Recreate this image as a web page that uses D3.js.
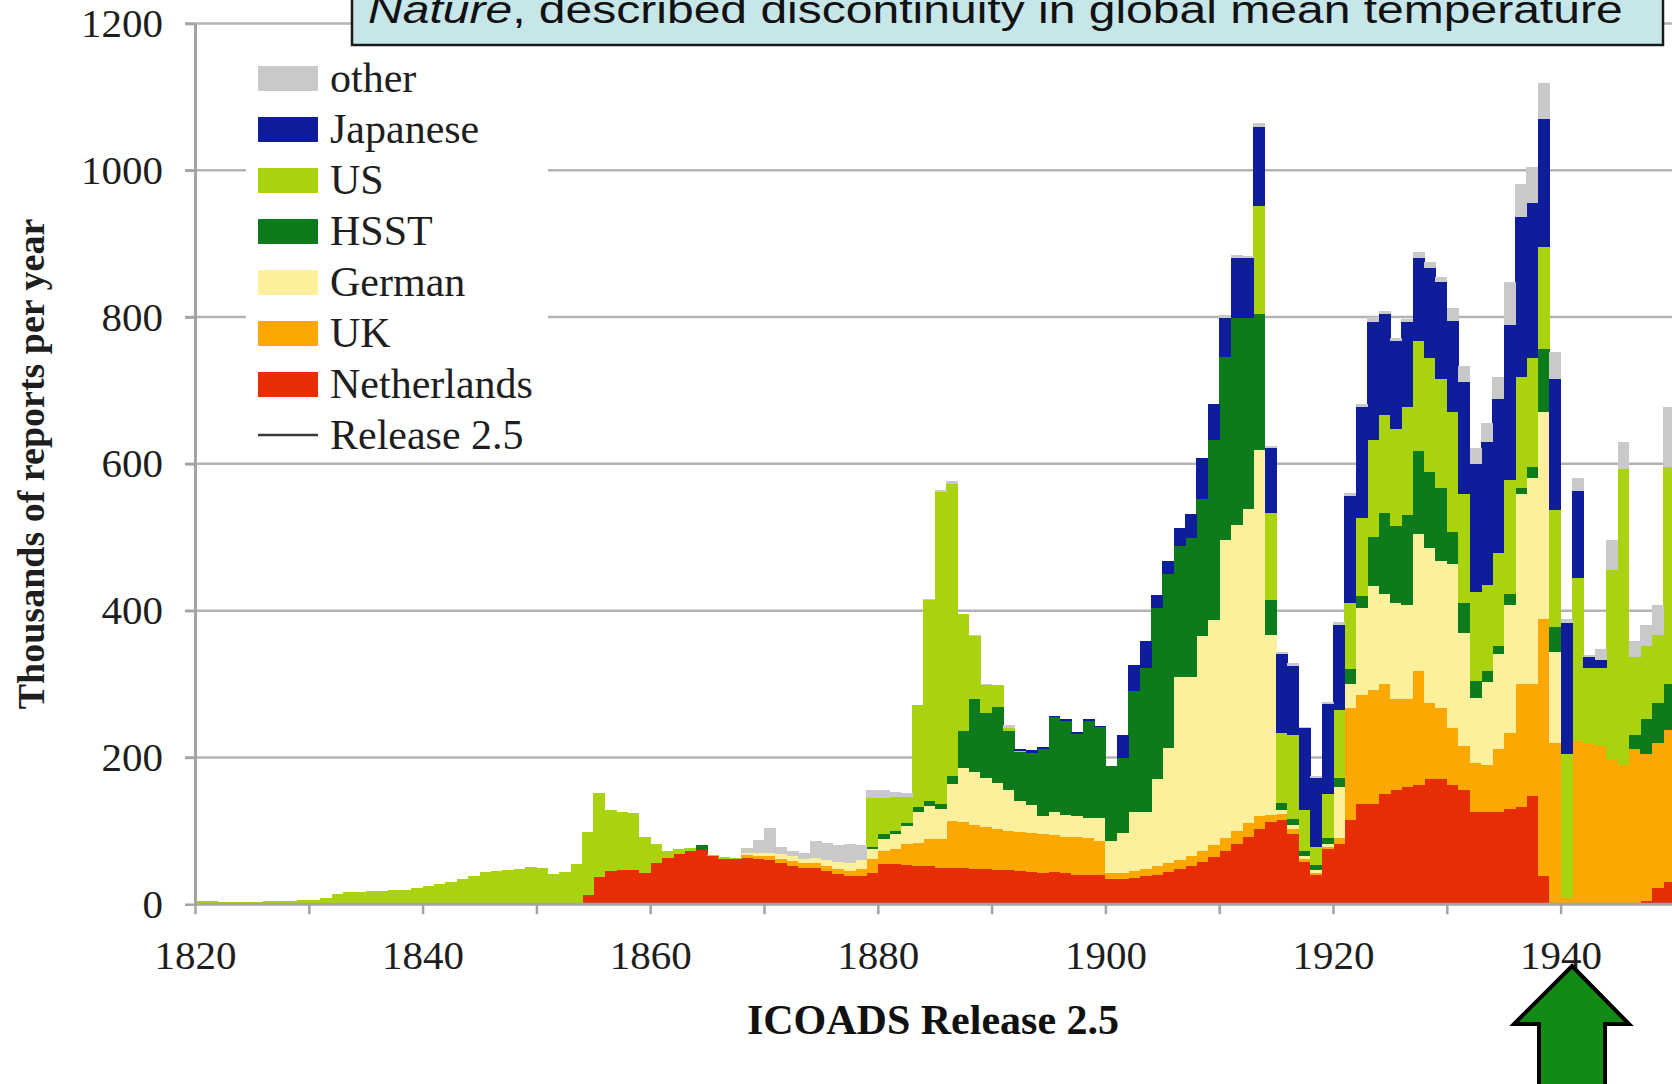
<!DOCTYPE html>
<html><head><meta charset="utf-8">
<script src="https://cdn.jsdelivr.net/npm/d3@7"></script>
<style>
html,body{margin:0;padding:0;background:#fff;}
svg{display:block;}
</style></head>
<body>
<svg id="chart" width="1672" height="1084"></svg>
<script>
// ---------- DATA (thousands of reports per year, 1820..1949) ----------
const firstYear = 1820;
const lastYear = 1949;
const seriesKeys = ["Netherlands", "UK", "German", "HSST", "US", "Japanese", "other"];
const legendOrder = ["other", "Japanese", "US", "HSST", "German", "UK", "Netherlands"];
const yTicks = [0, 200, 400, 600, 800, 1000, 1200];
const xTicks = [1820, 1830, 1840, 1850, 1860, 1870, 1880, 1890, 1900, 1910, 1920, 1930, 1940];
const xTickLabels = [1820, 1840, 1860, 1880, 1900, 1920, 1940];

const netherlands = [
  0,0,0,0,0,0,0,0,0,0,
  0,0,0,0,0,0,0,0,0,0,
  0,0,0,0,0,0,0,0,0,0,
  0,0,0,0,12,37,45,47,46,42,
  56,63,68,72,74,66,62,62,63,62,
  60,56,52,49,50,45,41,38,38,43,
  55,55,53,52,52,50,50,50,48,48,
  47,46,45,44,42,44,42,40,40,40,
  35,34,36,38,40,44,48,52,58,64,
  72,82,92,102,112,115,95,58,40,75,
  82,115,137,137,150,155,160,163,170,170,
  162,156,126,126,126,130,133,148,38,0,
  0,0,0,0,0,0,0,5,22,30];
const uk = [
  0,0,0,0,0,0,0,0,0,0,
  0,0,0,0,0,0,0,0,0,0,
  0,0,0,0,0,0,0,0,0,0,
  0,0,0,0,0,0,0,0,0,0,
  0,0,0,0,0,0,0,0,4,4,
  5,6,7,7,6,7,7,7,10,18,
  18,20,29,32,37,39,63,62,60,57,
  55,54,53,53,53,50,50,52,50,46,
  7,8,9,10,12,12,12,13,14,16,
  18,18,18,18,10,8,8,4,2,3,
  8,152,148,155,150,125,120,155,104,97,
  78,59,67,63,85,103,167,152,351,219,
  8,222,218,215,196,189,211,199,197,207];
const german = [
  0,0,0,0,0,0,0,0,0,0,
  0,0,0,0,0,0,0,0,0,0,
  0,0,0,0,0,0,0,0,0,0,
  0,0,0,0,0,0,0,0,0,0,
  0,0,0,0,0,0,0,0,3,4,
  5,6,7,6,7,8,9,11,12,14,
  16,20,25,41,45,41,51,74,72,67,
  63,55,42,38,25,31,30,28,28,32,
  44,55,80,77,119,157,250,245,294,307,
  406,417,428,499,245,5,5,4,4,4,
  70,33,119,141,122,131,127,186,211,200,
  223,155,88,114,130,174,259,281,281,125,
  0,0,0,0,0,0,0,0,0,0];
const hsst = [
  0,0,0,0,0,0,0,0,0,0,
  0,0,0,0,0,0,0,0,0,0,
  0,0,0,0,0,0,0,0,0,0,
  0,0,0,0,0,0,0,0,0,0,
  0,0,0,0,6,0,0,0,0,0,
  0,0,0,0,0,0,0,0,0,3,
  6,5,4,7,7,6,11,50,100,88,
  104,81,68,71,91,130,128,112,132,123,
  102,102,166,197,233,237,178,189,186,246,
  250,282,261,185,48,10,8,6,7,8,
  12,20,16,67,111,104,123,114,104,100,
  44,41,23,15,11,15,8,15,86,34,
  0,0,0,0,0,0,19,48,55,63];
const us = [
  4,4,3,3,3,3,4,5,5,6,
  6,9,14,16,17,18,18,19,20,22,
  25,27,30,34,39,44,45,46,48,51,
  50,41,44,55,87,115,84,79,78,49,
  26,10,7,5,1,1,2,1,0,0,
  0,0,0,0,0,0,0,0,0,67,
  50,46,35,139,274,426,398,159,86,38,
  29,4,1,0,0,0,0,0,0,0,
  0,0,0,0,0,0,0,0,0,0,
  0,0,0,148,118,95,114,56,25,60,
  93,91,106,133,134,133,148,149,155,148,
  163,148,122,117,126,156,152,148,140,159,
  196,222,104,107,260,404,107,100,93,296];
const japanese = [
  0,0,0,0,0,0,0,0,0,0,
  0,0,0,0,0,0,0,0,0,0,
  0,0,0,0,0,0,0,0,0,0,
  0,0,0,0,0,0,0,0,0,0,
  0,0,0,0,0,0,0,0,0,0,
  0,0,0,0,0,0,0,0,0,0,
  0,0,0,0,0,0,0,0,0,0,
  0,0,3,4,3,2,2,2,2,2,
  0,32,35,36,17,17,25,32,56,49,
  53,81,81,107,89,108,95,112,94,123,
  116,145,152,160,137,119,115,114,123,133,
  125,152,174,195,211,211,218,212,174,178,
  179,119,15,11,0,0,0,0,0,0];
const other = [
  0,0,0,0,0,0,0,0,0,0,
  0,0,0,0,0,0,0,0,0,0,
  0,0,0,0,0,0,0,0,0,0,
  0,0,0,0,0,0,0,0,0,0,
  0,0,0,0,0,0,0,0,6,18,
  34,10,7,8,23,24,23,26,20,10,
  10,7,6,1,1,2,3,1,1,2,
  1,4,0,0,0,0,0,0,0,0,
  0,0,0,0,0,0,0,0,0,0,
  4,4,3,6,3,3,3,2,2,2,
  3,4,4,7,4,5,5,8,8,7,
  18,22,22,25,30,59,44,48,49,37,
  5,18,3,15,40,37,22,29,40,82];

const colors = {
  Netherlands: "#e62d05",
  UK: "#fca702",
  German: "#fdf09c",
  HSST: "#0d7a1c",
  US: "#a8d30e",
  Japanese: "#0d1d9c",
  other: "#c9c9c9"
};

// ---------- BUILD TABLE ----------
const seriesData = {Netherlands: netherlands, UK: uk, German: german, HSST: hsst, US: us, Japanese: japanese, other: other};
const years = d3.range(firstYear, lastYear + 1);
const table = years.map((yr, i) => {
  const row = {year: yr};
  seriesKeys.forEach(k => row[k] = seriesData[k][i]);
  return row;
});
const stacked = d3.stack().keys(seriesKeys)(table);

// ---------- SCALES ----------
const svg = d3.select("#chart");
const x = d3.scaleLinear().domain([1820, 1950]).range([195, 1674.4]);
const y = d3.scaleLinear().domain([0, 1200]).range([904.2, 23.5]);
const axisColor = "#a3a3a3";

// gridlines
svg.append("g").selectAll("line").data(yTicks.filter(v => v > 0)).join("line")
  .attr("x1", 185).attr("x2", 1672)
  .attr("y1", d => y(d)).attr("y2", d => y(d))
  .attr("stroke", "#b3b3b3").attr("stroke-width", 2.5);

// bars
const barG = svg.append("g").attr("shape-rendering", "crispEdges");
barG.selectAll("g").data(stacked).join("g")
  .attr("fill", d => colors[d.key])
  .selectAll("rect").data(d => d.filter(s => s[1] - s[0] > 0)).join("rect")
  .attr("x", d => x(d.data.year))
  .attr("width", d => x(d.data.year + 1) - x(d.data.year) + 0.6)
  .attr("y", d => y(d[1]))
  .attr("height", d => y(d[0]) - y(d[1]));

// axes
const yAxis = svg.append("g").attr("transform", "translate(195,0)")
  .call(d3.axisLeft(y).tickValues(yTicks).tickSize(10).tickSizeOuter(0).tickPadding(22).tickFormat(d => String(d)));
const xAxis = svg.append("g").attr("transform", `translate(0,${y(0)})`)
  .call(d3.axisBottom(x).tickValues(xTicks).tickSize(10).tickSizeOuter(0).tickPadding(26)
    .tickFormat(d => xTickLabels.includes(d) ? String(d) : ""));
xAxis.select(".domain").attr("d", `M195,0H1672`);
[yAxis, xAxis].forEach(a => {
  a.select(".domain").attr("stroke", axisColor).attr("stroke-width", 3);
  a.selectAll(".tick line").attr("stroke", axisColor).attr("stroke-width", 2.5);
  a.selectAll(".tick text").attr("fill", "#1e1e1e")
    .style("font-family", "'Liberation Serif', 'Times New Roman', serif").style("font-size", "41px");
});

// legend
const legend = svg.append("g");
legend.append("rect").attr("x", 246).attr("y", 44).attr("width", 302).attr("height", 414).attr("fill", "#fff");
const rowY = i => 78 + i * 51;
legendOrder.forEach((k, i) => {
  legend.append("rect").attr("x", 258).attr("y", rowY(i) - 12).attr("width", 60).attr("height", 25).attr("fill", colors[k]);
  legend.append("text").attr("x", 330).attr("y", rowY(i)).attr("dy", "0.33em").text(k)
    .style("font-family", "'Liberation Serif', 'Times New Roman', serif").style("font-size", "42px").attr("fill", "#1e1e1e");
});
legend.append("line").attr("x1", 258).attr("x2", 318).attr("y1", rowY(7)).attr("y2", rowY(7))
  .attr("stroke", "#3a3a3a").attr("stroke-width", 2.5);
legend.append("text").attr("x", 330).attr("y", rowY(7)).attr("dy", "0.33em").text("Release 2.5")
  .style("font-family", "'Liberation Serif', 'Times New Roman', serif").style("font-size", "42px").attr("fill", "#1e1e1e");

// axis titles
svg.append("text").attr("transform", "translate(44,464) rotate(-90)").attr("text-anchor", "middle")
  .text("Thousands of reports per year")
  .style("font-family", "'Liberation Serif', 'Times New Roman', serif").style("font-size", "38px").style("font-weight", "bold").attr("fill", "#1e1e1e");
svg.append("text").attr("x", 933).attr("y", 1034).attr("text-anchor", "middle")
  .text("ICOADS Release 2.5")
  .style("font-family", "'Liberation Serif', 'Times New Roman', serif").style("font-size", "42px").style("font-weight", "bold").attr("fill", "#111");

// title box
svg.append("rect").attr("x", 352).attr("y", -6).attr("width", 1311).attr("height", 51)
  .attr("fill", "#c6e6e9").attr("stroke", "#1a1a1a").attr("stroke-width", 2.5);
const title = svg.append("text").attr("x", 0).attr("y", 0)
  .style("font-family", "'Liberation Sans', Arial, sans-serif").style("font-size", "38px").attr("fill", "#111");
title.append("tspan").style("font-style", "italic").text("Nature");
title.append("tspan").text(", described discontinuity in global mean temperature");
const tw = title.node().getComputedTextLength();
title.attr("transform", `translate(368,23) scale(${1255 / tw},1)`);

// arrow
svg.append("polygon")
  .attr("points", "1572,966 1629,1024 1605,1024 1605,1095 1539,1095 1539,1024 1514,1024")
  .attr("fill", "#138a16").attr("stroke", "#000").attr("stroke-width", 4).attr("stroke-linejoin", "miter");
</script>
</body></html>
